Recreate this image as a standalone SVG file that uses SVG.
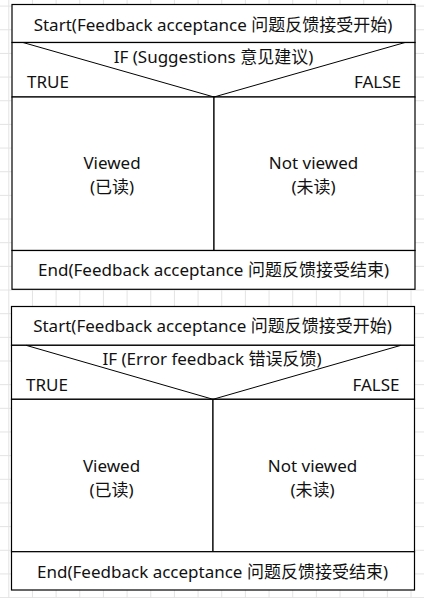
<svg xmlns="http://www.w3.org/2000/svg" width="424" height="598" viewBox="0 0 424 598">
  <defs>
    <pattern id="grid" x="8.3" y="5.6" width="23.66" height="23.66" patternUnits="userSpaceOnUse">
      <path d="M0.5 0V23.66M0 0.5H23.66" fill="none" stroke="#e3e3e3" stroke-width="1"/>
    </pattern>
    <style>
      .box { fill: #ffffff; stroke: #000000; stroke-width: 1.2; }
      .diag { fill: none; stroke: #000000; stroke-width: 1; }
      text { font-family: "Noto Sans", "Noto Sans CJK SC", sans-serif; font-size: 17px; fill: #111111; }
      .c { text-anchor: middle; }
      .r { text-anchor: end; }
    </style>
  </defs>

  <rect width="424" height="598" fill="#ffffff"/>
  <rect width="424" height="598" fill="url(#grid)"/>

  <!-- Chart 1: suggestions -->
  <g id="chart1">
    <g id="start1">
      <rect class="box" x="12" y="4.5" width="403" height="38"/>
      <text class="c" x="213" y="30.5">Start(Feedback acceptance 问题反馈接受开始)</text>
    </g>
    <g id="if1">
      <rect class="box" x="12" y="42.5" width="403" height="54.5"/>
      <text class="c" x="213.5" y="63">IF (Suggestions 意见建议)</text>
      <text x="27" y="88">TRUE</text>
      <text class="r" x="401" y="88">FALSE</text>
    </g>
    <g id="viewed1">
      <rect class="box" x="12" y="97" width="202" height="153.5"/>
      <text class="c" x="112" y="169">Viewed</text>
      <text class="c" x="112" y="193">(已读)</text>
    </g>
    <g id="notviewed1">
      <rect class="box" x="214" y="97" width="201" height="153.5"/>
      <text class="c" x="313.5" y="169">Not viewed</text>
      <text class="c" x="313.5" y="193">(未读)</text>
    </g>
    <g id="end1">
      <rect class="box" x="12" y="250.5" width="403" height="38.8"/>
      <text class="c" x="213.5" y="275.5">End(Feedback acceptance 问题反馈接受结束)</text>
    </g>
  </g>

  <!-- Chart 2: error feedback -->
  <g id="chart2">
    <g id="start2">
      <rect class="box" x="11.5" y="306.5" width="403" height="38.8"/>
      <text class="c" x="212.5" y="332.3">Start(Feedback acceptance 问题反馈接受开始)</text>
    </g>
    <g id="if2">
      <rect class="box" x="11.5" y="345.3" width="403" height="54"/>
      <text class="c" x="212" y="365">IF (Error feedback 错误反馈)</text>
      <text x="26" y="390.7">TRUE</text>
      <text class="r" x="399.5" y="390.7">FALSE</text>
    </g>
    <g id="viewed2">
      <rect class="box" x="11.5" y="399.3" width="201.5" height="152.4"/>
      <text class="c" x="111.5" y="472">Viewed</text>
      <text class="c" x="111.5" y="496">(已读)</text>
    </g>
    <g id="notviewed2">
      <rect class="box" x="213" y="399.3" width="201.5" height="152.4"/>
      <text class="c" x="312.5" y="472">Not viewed</text>
      <text class="c" x="312.5" y="496">(未读)</text>
    </g>
    <g id="end2">
      <rect class="box" x="11.5" y="551.7" width="403" height="38.3"/>
      <text class="c" x="212.5" y="578">End(Feedback acceptance 问题反馈接受结束)</text>
    </g>
  </g>

  <!-- Decision split lines of both IF rows -->
  <g id="connectors">
    <path class="diag" d="M23 42.5L214 97L405 42.5"/>
    <path class="diag" d="M26 345.3L213 399.3L401 345.3"/>
  </g>
</svg>
